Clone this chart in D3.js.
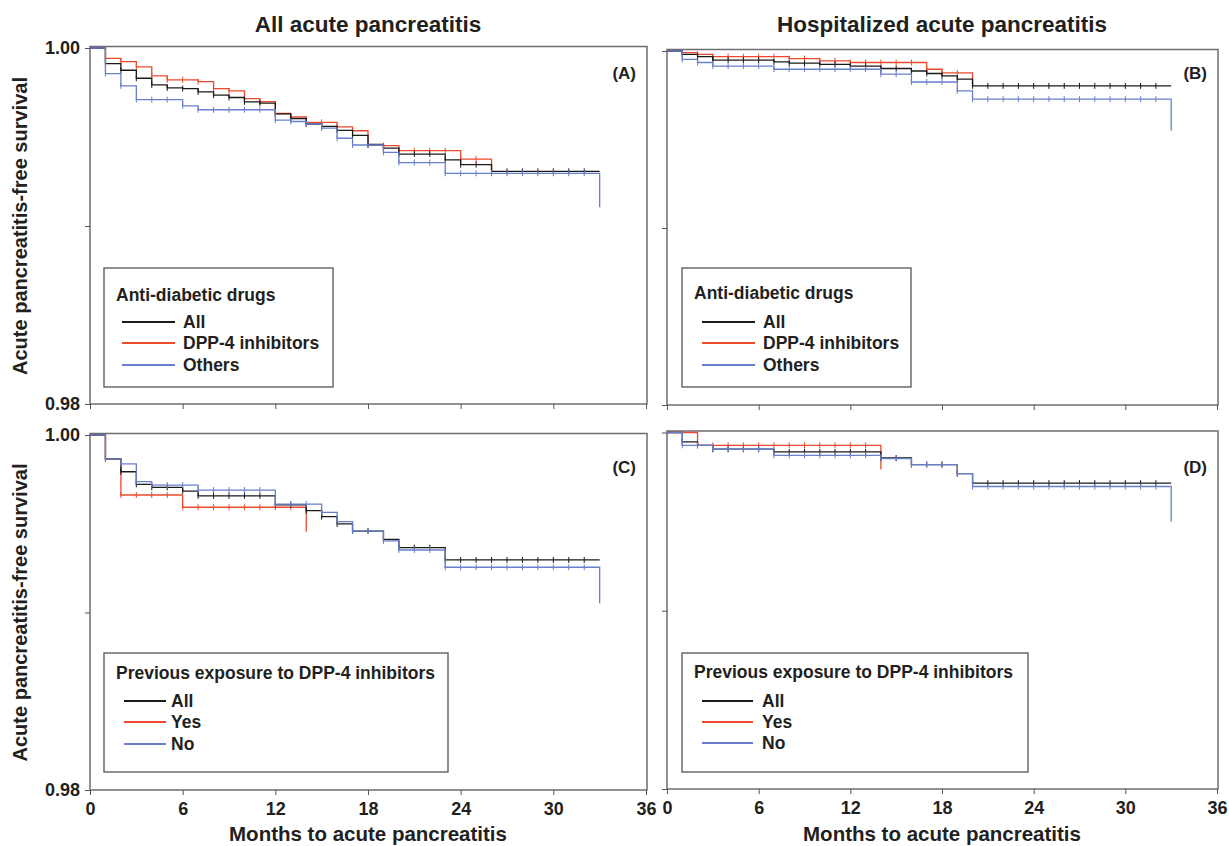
<!DOCTYPE html>
<html>
<head>
<meta charset="UTF-8">
<script src="https://d3js.org/d3.v7.min.js"></script>
<style>
  body { margin: 0; background: #fff; }
  svg text { font-family: "Liberation Sans", Arial, sans-serif; font-weight: bold; fill: #231f20; }
</style>
</head>
<body>
<svg></svg>
<script>
let width = 1229, height = 846;

// axis ticks
const xTicks = [0, 6, 12, 18, 24, 30, 36];
const yTicks = [0.98, 0.99, 1.00];
const yTickLabels = ["0.98", "", "1.00"];

// months with censored patients (tick marks)
const censorFull = [1,2,3,4,5,6,7,8,9,10,11,12,13,14,15,16,17,18,19,20,21,22,23,24,25,26,27,28,29,30,31,32];
const censorDppA = [1,2,3,4,5,6,7,8,9,10,11,12,13,14,15,16,17,18,19,20,21,22,23,24,25];
const censorDppB = [1,2,3,4,5,6,7,8,9,10,11,12,13,14,15,16,17,18,19];
const censorYesC = [2,3,4,5,6,7,8,9,10,11,12,13];
const censorYesD = [3,4,5,6,7,8,9,10,11,12,13];

// (A) all acute pancreatitis, by anti-diabetic drug
const aAllT = [0,1,2,3,4,5,6,7,8,9,10,11,12,13,14,15,16,17,18,19,20,23,24,26,33];
const aAllS = [1,0.99912,0.99875,0.9983,0.99793,0.99776,0.99772,0.99753,0.99735,0.99722,0.99697,0.9969,0.9963,0.99604,0.99573,0.9956,0.99537,0.99509,0.99458,0.99438,0.99404,0.99371,0.99345,0.99307,0.99307];
const aDppT = [0,1,2,3,4,5,7,8,9,10,11,12,13,14,16,17,18,19,20,24,26];
const aDppS = [1,0.99942,0.99923,0.99894,0.99843,0.99821,0.99811,0.99772,0.99759,0.99716,0.99699,0.99632,0.99613,0.99582,0.99557,0.99535,0.99455,0.99451,0.99423,0.99376,0.99307];
const aOthT = [0,1,2,3,6,7,12,13,14,15,16,17,19,20,23,33];
const aOthS = [1,0.99856,0.99787,0.9971,0.99675,0.99653,0.99595,0.99587,0.99573,0.9955,0.99493,0.99455,0.99414,0.99356,0.99296,0.99105];

// (B) hospitalized, by anti-diabetic drug
const bAllT = [0,1,2,3,7,8,10,12,14,16,17,18,19,20,33];
const bAllS = [1,0.99981,0.99968,0.99949,0.99938,0.99931,0.99925,0.99915,0.99901,0.99887,0.99873,0.9986,0.99841,0.99803,0.99803];
const bDppT = [0,1,2,3,8,10,12,17,18,20];
const bDppS = [1,0.99991,0.99981,0.99968,0.99957,0.99944,0.99935,0.99897,0.99876,0.99803];
const bOthT = [0,1,2,3,7,14,16,19,20,33];
const bOthS = [1,0.99953,0.99935,0.99915,0.99897,0.99869,0.99825,0.99775,0.99728,0.99549];

// (C) all acute pancreatitis, by previous DPP-4 exposure
const cAllT = [0,1,2,3,4,6,7,12,14,15,16,17,19,20,23,33];
const cAllS = [1,0.99865,0.99793,0.99722,0.99705,0.99684,0.99657,0.99606,0.99574,0.9954,0.99499,0.99459,0.99412,0.99365,0.99296,0.99296];
const cYesT = [0,1,2,6,14];
const cYesS = [1,0.99865,0.99662,0.99593,0.99455];
const cNoT = [0,1,2,3,4,7,12,15,16,17,19,20,23,33];
const cNoS = [1,0.99865,0.99837,0.99737,0.99718,0.9969,0.99611,0.99564,0.99512,0.99459,0.99404,0.99352,0.99255,0.99052];

// (D) hospitalized, by previous DPP-4 exposure
const dAllT = [0,1,2,3,7,14,16,19,20,33];
const dAllS = [1,0.99947,0.99928,0.99906,0.99891,0.99857,0.9982,0.99769,0.99716,0.99716];
const dYesT = [0,2,14];
const dYesS = [1,0.99928,0.99792];
const dNoT = [0,1,3,7,14,16,19,20,33];
const dNoS = [1,0.99928,0.99906,0.99872,0.99854,0.9982,0.99769,0.99697,0.995];

const colTitles = ["All acute pancreatitis", "Hospitalized acute pancreatitis"];
const legendTitles = ["Anti-diabetic drugs", "Previous exposure to DPP-4 inhibitors"];
const legendNames = [["All", "DPP-4 inhibitors", "Others"], ["All", "Yes", "No"]];

const black = "#1a1a1a", red = "#ec4a2c", blue = "#6a7fcc";

const panels = [
  {label: "(A)", col: 0, row: 0, x0: 90, x1: 646, yTop: 48, yBot: 404,
   legend: {x: 104, y: 268, w: 229, h: 119, t: 27, r: [54, 75, 97], l0: 18, l1: 71, lx: 79},
   series: [{c: red, t: aDppT, s: aDppS, cens: censorDppA},
            {c: black, t: aAllT, s: aAllS, cens: censorFull},
            {c: blue, t: aOthT, s: aOthS, cens: censorFull}]},
  {label: "(B)", col: 1, row: 0, x0: 667, x1: 1217, yTop: 51, yBot: 405,
   legend: {x: 682, y: 268, w: 229, h: 119, t: 25, r: [54, 75, 97], l0: 20, l1: 73, lx: 81},
   series: [{c: red, t: bDppT, s: bDppS, cens: censorDppB},
            {c: black, t: bAllT, s: bAllS, cens: censorFull},
            {c: blue, t: bOthT, s: bOthS, cens: censorFull}]},
  {label: "(C)", col: 0, row: 1, x0: 90, x1: 646, yTop: 435, yBot: 790,
   legend: {x: 104, y: 653, w: 344, h: 119, t: 20, r: [48, 69, 91], l0: 20, l1: 62, lx: 67},
   series: [{c: red, t: cYesT, s: cYesS, cens: censorYesC},
            {c: black, t: cAllT, s: cAllS, cens: censorFull},
            {c: blue, t: cNoT, s: cNoS, cens: censorFull}]},
  {label: "(D)", col: 1, row: 1, x0: 667, x1: 1217, yTop: 432.5, yBot: 789,
   legend: {x: 682, y: 653, w: 346, h: 119, t: 19, r: [48, 69, 90], l0: 20, l1: 71, lx: 80},
   series: [{c: red, t: dYesT, s: dYesS, cens: censorYesD},
            {c: black, t: dAllT, s: dAllS, cens: censorFull},
            {c: blue, t: dNoT, s: dNoS, cens: censorFull}]}
];
const legendColors = [black, red, blue];

let svg = d3.select("svg").attr("width", width).attr("height", height);

// column titles
colTitles.forEach((t, i) => {
  let p = panels[i];
  svg.append("text").attr("x", (p.x0 + p.x1) / 2).attr("y", 32)
    .attr("text-anchor", "middle").style("font-size", "22.5px").text(t);
});

function survAt(t, s, m) {
  let i = d3.bisectRight(t, m) - 1;
  return s[Math.max(0, i)];
}

panels.forEach(p => {
  let x = d3.scaleLinear().domain([0, 36]).range([p.x0, p.x1]);
  let y = d3.scaleLinear().domain([0.98, 1.0]).range([p.yBot, p.yTop]);
  let g = svg.append("g");

  // frame
  g.append("rect").attr("x", p.x0).attr("y", p.yTop - 1.5)
    .attr("width", p.x1 - p.x0 + 1).attr("height", p.yBot - p.yTop + 1.5)
    .attr("fill", "none").attr("stroke", "#6d6e71").attr("stroke-width", 1.5);

  // y axis
  let yAxis = d3.axisLeft(y).tickValues(yTicks).tickSize(5).tickSizeOuter(0).tickPadding(5)
    .tickFormat((d, i) => p.col === 0 ? yTickLabels[i] : "");
  let ya = g.append("g").attr("transform", `translate(${p.x0},0)`).call(yAxis);
  ya.select(".domain").remove();
  ya.selectAll("line").attr("stroke", "#555");
  ya.selectAll("text").style("font-size", "18px").style("font-family", null);

  // x axis
  let xAxis = d3.axisBottom(x).tickValues(xTicks).tickSize(5).tickSizeOuter(0).tickPadding(7)
    .tickFormat(d => p.row === 1 ? d : "");
  let xa = g.append("g").attr("transform", `translate(0,${p.yBot})`).call(xAxis);
  xa.select(".domain").remove();
  xa.selectAll("line").attr("stroke", "#555");
  xa.selectAll("text").style("font-size", "18px").style("font-family", null);

  // survival curves
  let line = d3.line().x(d => x(d[0])).y(d => y(d[1])).curve(d3.curveStepAfter);
  p.series.forEach(se => {
    let pts = se.t.map((t, i) => [t, se.s[i]]);
    g.append("path").datum(pts).attr("d", line)
      .attr("fill", "none").attr("stroke", se.c).attr("stroke-width", 1.3);
    g.selectAll(null).data(se.cens).enter().append("line")
      .attr("x1", d => x(d)).attr("x2", d => x(d))
      .attr("y1", d => y(survAt(se.t, se.s, d)) - 3)
      .attr("y2", d => y(survAt(se.t, se.s, d)) + 3)
      .attr("stroke", se.c).attr("stroke-width", 1);
  });

  // panel letter
  g.append("text").attr("x", p.x1 - 10).attr("y", p.row === 0 ? 79 : 473)
    .attr("text-anchor", "end").style("font-size", "17px").text(p.label);

  // legend
  let L = p.legend;
  let lg = g.append("g").attr("transform", `translate(${L.x},${L.y})`);
  lg.append("rect").attr("width", L.w).attr("height", L.h)
    .attr("fill", "#fff").attr("stroke", "#555").attr("stroke-width", 1.3);
  lg.append("text").attr("x", 12).attr("y", L.t).attr("dy", "0.35em")
    .style("font-size", "17.5px").text(legendTitles[p.row]);
  legendNames[p.row].forEach((n, i) => {
    lg.append("line").attr("x1", L.l0).attr("x2", L.l1).attr("y1", L.r[i]).attr("y2", L.r[i])
      .attr("stroke", legendColors[i]).attr("stroke-width", 2);
    lg.append("text").attr("x", L.lx).attr("y", L.r[i]).attr("dy", "0.35em")
      .style("font-size", "17.5px").text(n);
  });

  // y axis title (left column only)
  if (p.col === 0) {
    svg.append("text")
      .attr("transform", `translate(27,${(p.yTop + p.yBot) / 2}) rotate(-90)`)
      .attr("text-anchor", "middle").style("font-size", "20px")
      .text("Acute pancreatitis-free survival");
  }
  // x axis title (bottom row only)
  if (p.row === 1) {
    svg.append("text").attr("x", (p.x0 + p.x1) / 2).attr("y", 841)
      .attr("text-anchor", "middle").style("font-size", "20.5px")
      .text("Months to acute pancreatitis");
  }
});
</script>
</body>
</html>
